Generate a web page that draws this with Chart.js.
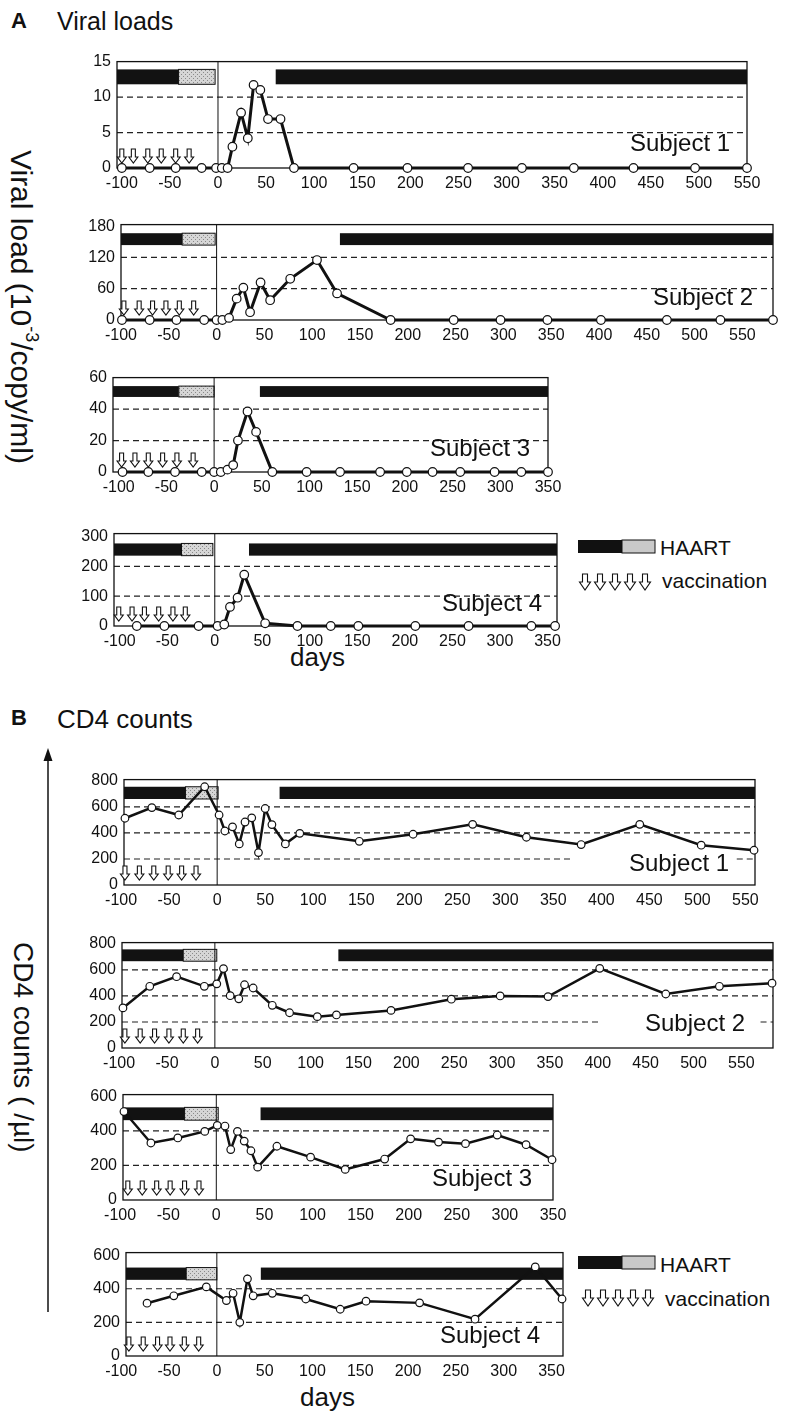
<!DOCTYPE html>
<html>
<head>
<meta charset="utf-8">
<script src="https://cdn.jsdelivr.net/npm/chart.js@4.4.1/dist/chart.umd.min.js"></script>
<style>
body { margin: 0; background: #fff; }
#page { position: relative; width: 805px; height: 1419px; overflow: hidden; background: #fff;
        font-family: "Liberation Sans", Arial, sans-serif; color: #111; }
#page canvas { position: absolute; }
.t { position: absolute; white-space: nowrap; line-height: 1; }
.vt { position: absolute; white-space: nowrap; line-height: 1; writing-mode: vertical-rl; }
.vt sup { font-size: 0.6em; }
</style>
</head>
<body>
<div id="page">
  <div class="t" style="left:11px;top:10px;font-size:22px;font-weight:bold">A</div>
  <div class="t" style="left:57px;top:9px;font-size:25px">Viral loads</div>
  <div class="vt" style="left:6px;top:150px;font-size:30px">Viral load (10<sup>-3</sup>/copy/ml)</div>
  <div class="t" style="left:290px;top:644px;font-size:26px">days</div>

  <div class="t" style="left:11px;top:707px;font-size:22px;font-weight:bold">B</div>
  <div class="t" style="left:57px;top:706px;font-size:26px">CD4 counts</div>
  <div class="vt" style="left:9px;top:942px;font-size:28px">CD4 counts ( /µl)</div>
  <div class="t" style="left:300px;top:1384px;font-size:26px">days</div>

  <svg style="position:absolute;left:42px;top:748px" width="12" height="566">
    <line x1="6" y1="10" x2="6" y2="564" stroke="#111" stroke-width="1.5"/>
    <polygon points="1.5,13 6,0 10.5,13" fill="#111"/>
  </svg>

  <!-- legends -->
  <svg style="position:absolute;left:576px;top:536px" width="84" height="60">
    <rect x="2" y="4" width="44" height="13" fill="#111"/>
    <rect x="46" y="4" width="33" height="13" fill="#c9c9c9" stroke="#111" stroke-width="1"/>
    <g id="legArrows1" fill="#fff" stroke="#111" stroke-width="1.1"></g>
  </svg>
  <div class="t" style="left:660px;top:537px;font-size:21px">HAART</div>
  <div class="t" style="left:662px;top:570px;font-size:21px">vaccination</div>

  <svg style="position:absolute;left:576px;top:1252px" width="90" height="60">
    <rect x="2" y="4" width="44" height="13" fill="#111"/>
    <rect x="46" y="4" width="33" height="13" fill="#c9c9c9" stroke="#111" stroke-width="1"/>
    <g id="legArrows2" fill="#fff" stroke="#111" stroke-width="1.1"></g>
  </svg>
  <div class="t" style="left:660px;top:1254px;font-size:21px">HAART</div>
  <div class="t" style="left:665px;top:1288px;font-size:21px">vaccination</div>
</div>
<script>
// ---- A: viral loads (x1000 copies/ml) ----
var a1Days = [-100, -71, -44, -17, -2, 4, 10, 15, 24, 31, 37, 44, 52, 65, 79, 141, 197, 260, 316, 370, 432, 496, 550];
var a1Load = [0, 0, 0, 0, 0, 0, 0, 3, 7.8, 4.2, 11.7, 11, 6.9, 6.9, 0, 0, 0, 0, 0, 0, 0, 0, 0];
var a1Haart = [-41, -3, 60];
var a1Vacc = [-100, -88, -73, -59, -44, -30];

var a2Days = [-99, -70, -42, -13, 0, 6, 13, 21, 28, 35, 46, 56, 77, 105, 126, 182, 248, 297, 346, 402, 471, 527, 582];
var a2Load = [0, 0, 0, 0, 0, 0, 4, 41, 62, 15, 72, 38, 79, 115, 51, 0, 0, 0, 0, 0, 0, 0, 0];
var a2Haart = [-36, -1.5, 129];
var a2Vacc = [-97, -81, -67, -53, -39, -24];

var a3Days = [-96, -69, -41, -13, 0, 7, 14, 20, 25, 35, 44, 61, 97, 132, 174, 202, 229, 258, 294, 322, 350];
var a3Load = [0, 0, 0, 0, 0, 0, 1.5, 4.4, 20, 38.5, 25.5, 0, 0, 0, 0, 0, 0, 0, 0, 0, 0];
var a3Haart = [-37, 0, 48];
var a3Vacc = [-97, -83, -69, -54, -39, -22];

var a4Days = [-82, -53, -17, 3, 10, 16, 24, 31, 53, 87, 122, 151, 211, 267, 333, 358];
var a4Load = [0, 0, 0, 0, 5, 64, 95, 172, 9, 0, 0, 0, 0, 0, 0, 0];
var a4Haart = [-35, -2, 36];
var a4Vacc = [-101, -87, -74, -59, -44, -31];

// ---- B: CD4 counts (/ul) ----
var b1Days = [-96, -68, -40, -13, 2, 8, 16, 23, 29, 36, 43, 50, 57, 71, 86, 148, 204, 266, 322, 379, 440, 504, 559];
var b1Cd4 = [513, 595, 538, 755, 538, 415, 447, 316, 484, 516, 249, 588, 464, 316, 397, 336, 390, 466, 367, 311, 466, 306, 267];
var b1Haart = [-33, 1, 65];
var b1Vacc = [-96, -81, -66, -51, -37, -22];

var b2Days = [-96, -68, -40, -11, 2, 9, 16, 25, 31, 40, 60, 78, 107, 127, 184, 247, 298, 348, 402, 471, 527, 582];
var b2Cd4 = [308, 474, 548, 474, 493, 610, 402, 378, 486, 461, 328, 271, 241, 254, 289, 375, 400, 395, 612, 415, 474, 498];
var b2Haart = [-33, 2, 129];
var b2Vacc = [-94, -78, -63, -48, -33, -18];

var b3Days = [-96, -68, -40, -12, 1, 9, 15, 22, 29, 36, 43, 63, 98, 134, 175, 202, 231, 259, 292, 322, 349];
var b3Cd4 = [512, 330, 359, 397, 432, 428, 292, 397, 341, 285, 190, 311, 248, 177, 237, 354, 335, 326, 376, 320, 233];
var b3Haart = [-33, 2, 46];
var b3Vacc = [-92, -77, -62, -48, -33, -18];

var b4Days = [-73, -45, -11, 10, 17, 24, 32, 38, 58, 93, 129, 156, 212, 270, 333, 361];
var b4Cd4 = [314, 358, 411, 330, 373, 200, 459, 358, 373, 339, 278, 326, 316, 219, 530, 339];
var b4Haart = [-32, 0, 46];
var b4Vacc = [-92, -77, -62, -49, -34, -19];

// ---- tick labels ----
var xTicksLong = [-100, -50, 0, 50, 100, 150, 200, 250, 300, 350, 400, 450, 500, 550];
var xTicksShort = [-100, -50, 0, 50, 100, 150, 200, 250, 300, 350];
var yTicksA1 = [0, 5, 10, 15];
var yTicksA2 = [0, 60, 120, 180];
var yTicksA3 = [0, 20, 40, 60];
var yTicksA4 = [0, 100, 200, 300];
var yTicksB12 = [0, 200, 400, 600, 800];
var yTicksB34 = [0, 200, 400, 600];

var subjects = ['Subject 1', 'Subject 2', 'Subject 3', 'Subject 4'];

var FONT = '"Liberation Sans", Arial, sans-serif';
var page = document.getElementById('page');

// grey (tapered-off HAART) fill
function greyPattern(ctx) {
  var p = document.createElement('canvas');
  p.width = 4; p.height = 4;
  var g = p.getContext('2d');
  g.fillStyle = '#d6d6d6'; g.fillRect(0, 0, 4, 4);
  g.fillStyle = '#8a8a8a'; g.fillRect(0, 0, 1, 1); g.fillRect(2, 2, 1, 1);
  return ctx.createPattern(p, 'repeat');
}

function drawArrow(ctx, cx, tip) {
  ctx.beginPath();
  ctx.moveTo(cx - 2, tip - 14);
  ctx.lineTo(cx + 2, tip - 14);
  ctx.lineTo(cx + 2, tip - 6);
  ctx.lineTo(cx + 4.5, tip - 6);
  ctx.lineTo(cx, tip);
  ctx.lineTo(cx - 4.5, tip - 6);
  ctx.lineTo(cx - 2, tip - 6);
  ctx.closePath();
  ctx.fill();
  ctx.stroke();
}

function decorPlugin(g, haart, vacc) {
  return {
    id: 'decor',
    beforeDatasetsDraw: function(chart) {
      var ctx = chart.ctx, a = chart.chartArea, x = chart.scales.x, y = chart.scales.y;
      ctx.save();
      // dashed reference lines
      ctx.strokeStyle = '#222'; ctx.lineWidth = 1.2; ctx.setLineDash([6, 4]);
      g.dashed.forEach(function(d) {
        var yy = y.getPixelForValue(d.y);
        var x0 = d.from != null ? x.getPixelForValue(d.from) : a.left;
        var x1 = d.to != null ? x.getPixelForValue(d.to) : a.right;
        ctx.beginPath(); ctx.moveTo(x0, yy); ctx.lineTo(x1, yy); ctx.stroke();
      });
      ctx.setLineDash([]);
      // HAART bars
      var yt = y.getPixelForValue(g.bar[1]), yb = y.getPixelForValue(g.bar[0]);
      var xa = x.getPixelForValue(haart[0]), xb = x.getPixelForValue(haart[1]), xc = x.getPixelForValue(haart[2]);
      ctx.fillStyle = '#121212';
      ctx.fillRect(a.left, yt, xa - a.left, yb - yt);
      ctx.fillRect(xc, yt, a.right - xc, yb - yt);
      ctx.fillStyle = greyPattern(ctx);
      ctx.fillRect(xa, yt, xb - xa, yb - yt);
      ctx.strokeStyle = '#111'; ctx.lineWidth = 1;
      ctx.strokeRect(xa, yt, xb - xa, yb - yt);
      // day 0 separator
      var x0 = x.getPixelForValue(0);
      ctx.beginPath(); ctx.moveTo(x0, a.top); ctx.lineTo(x0, a.bottom); ctx.stroke();
      // frame
      ctx.lineWidth = 1.3; ctx.strokeStyle = '#111';
      ctx.strokeRect(a.left, a.top, a.right - a.left, a.bottom - a.top);
      // vaccinations
      ctx.fillStyle = '#fff'; ctx.lineWidth = 1.1;
      vacc.forEach(function(d) { drawArrow(ctx, x.getPixelForValue(d), a.bottom - 5); });
      ctx.restore();
    }
  };
}

function makePanel(g, days, vals, haart, vacc, xTicks, yTicks, label) {
  var L = 60, R = 26, T = 12, B = 30;
  var l = Math.round(g.l), r = Math.round(g.r), t = Math.round(g.t), b = Math.round(g.b);
  var c = document.createElement('canvas');
  c.width = r - l + L + R; c.height = b - t + T + B;
  c.style.left = (l - L) + 'px'; c.style.top = (t - T) + 'px';
  page.appendChild(c);

  var lbl = document.createElement('div');
  lbl.className = 't';
  lbl.style.left = g.sx + 'px'; lbl.style.top = (g.sy - 20) + 'px'; lbl.style.fontSize = '24px';
  lbl.textContent = label;
  page.appendChild(lbl);

  new Chart(c, {
    type: 'line',
    data: {
      datasets: [{
        data: days.map(function(d, i) { return { x: d, y: vals[i] }; }),
        borderColor: '#111', borderWidth: g.lw, tension: 0, clip: false,
        pointRadius: g.pr, pointBackgroundColor: '#fff', pointBorderColor: '#111', pointBorderWidth: 1.2
      }]
    },
    options: {
      responsive: false, animation: false, devicePixelRatio: 1,
      layout: { padding: { top: T, right: R, left: 0, bottom: 0 } },
      plugins: { legend: { display: false }, tooltip: { enabled: false } },
      scales: {
        x: {
          type: 'linear', min: g.xMin, max: g.xMax,
          grid: { display: false, drawTicks: false }, border: { display: false },
          ticks: { autoSkip: false, maxRotation: 0, padding: 6, color: '#111', font: { size: 16, family: FONT } },
          afterBuildTicks: function(s) { s.ticks = xTicks.map(function(v) { return { value: v }; }); },
          afterFit: function(s) { s.height = B; }
        },
        y: {
          min: 0, max: g.yMax,
          grid: { display: false, drawTicks: false }, border: { display: false },
          ticks: { autoSkip: false, padding: 6, color: '#111', font: { size: 16, family: FONT } },
          afterBuildTicks: function(s) { s.ticks = yTicks.map(function(v) { return { value: v }; }); },
          afterFit: function(s) { s.width = L; }
        }
      }
    },
    plugins: [decorPlugin(g, haart, vacc)]
  });
}

// panel boxes (page px) and axis ranges
makePanel({ l: 117, r: 747, t: 58, b: 167.5, xMin: -105, xMax: 550, yMax: 15, lw: 3, pr: 4.3,
            bar: [11.8, 13.9], dashed: [{ y: 5 }, { y: 10 }], sx: 630, sy: 151 },
          a1Days, a1Load, a1Haart, a1Vacc, xTicksLong, yTicksA1, subjects[0]);
makePanel({ l: 121, r: 773, t: 221, b: 319.6, xMin: -100, xMax: 582, yMax: 183, lw: 3, pr: 4.3,
            bar: [143.7, 166.5], dashed: [{ y: 60 }, { y: 120 }], sx: 653, sy: 305 },
          a2Days, a2Load, a2Haart, a2Vacc, xTicksLong, yTicksA2, subjects[1]);
makePanel({ l: 113, r: 548, t: 374, b: 471.5, xMin: -106, xMax: 350, yMax: 60, lw: 3, pr: 4.3,
            bar: [47.7, 54.6], dashed: [{ y: 20 }, { y: 40 }], sx: 430, sy: 456 },
          a3Days, a3Load, a3Haart, a3Vacc, xTicksShort, yTicksA3, subjects[2]);
makePanel({ l: 114, r: 557, t: 530, b: 626, xMin: -106, xMax: 360, yMax: 310, lw: 3, pr: 4.3,
            bar: [236, 277], dashed: [{ y: 100 }, { y: 200 }], sx: 442, sy: 611 },
          a4Days, a4Load, a4Haart, a4Vacc, xTicksShort, yTicksA4, subjects[3]);

makePanel({ l: 124, r: 755, t: 776, b: 885.3, xMin: -97, xMax: 560, yMax: 810, lw: 2.5, pr: 3.8,
            bar: [661, 755], dashed: [{ y: 600 }, { y: 400 }, { y: 200, to: 368 }, { y: 200, from: 541 }], sx: 629, sy: 871 },
          b1Days, b1Cd4, b1Haart, b1Vacc, xTicksLong, yTicksB12, subjects[0]);
makePanel({ l: 122, r: 773, t: 939, b: 1048.3, xMin: -97, xMax: 583, yMax: 810, lw: 2.5, pr: 3.8,
            bar: [667, 758], dashed: [{ y: 600 }, { y: 400 }, { y: 200, to: 402 }, { y: 200, from: 570 }], sx: 645, sy: 1031 },
          b2Days, b2Cd4, b2Haart, b2Vacc, xTicksLong, yTicksB12, subjects[1]);
makePanel({ l: 123, r: 553, t: 1091, b: 1200, xMin: -97, xMax: 350, yMax: 610, lw: 2.5, pr: 3.8,
            bar: [462, 536], dashed: [{ y: 400 }, { y: 200 }], sx: 432, sy: 1186 },
          b3Days, b3Cd4, b3Haart, b3Vacc, xTicksShort, yTicksB34, subjects[2]);
makePanel({ l: 126, r: 563, t: 1249, b: 1356, xMin: -95, xMax: 362, yMax: 615, lw: 2.5, pr: 3.8,
            bar: [453, 526], dashed: [{ y: 400 }, { y: 200 }], sx: 440, sy: 1343 },
          b4Days, b4Cd4, b4Haart, b4Vacc, xTicksShort, yTicksB34, subjects[3]);

// legend arrows
function legendArrows(id, x0, tip) {
  var grp = document.getElementById(id), html = '';
  for (var i = 0; i < 5; i++) {
    var cx = x0 + i * 15;
    html += '<path d="M' + (cx - 2.5) + ' ' + (tip - 16) + ' h5 v8 h3 L' + cx + ' ' + tip +
            ' L' + (cx - 5.5) + ' ' + (tip - 8) + ' h3 Z"/>';
  }
  grp.innerHTML = html;
}
legendArrows('legArrows1', 9, 54);
legendArrows('legArrows2', 12, 54);
</script>
</body>
</html>
